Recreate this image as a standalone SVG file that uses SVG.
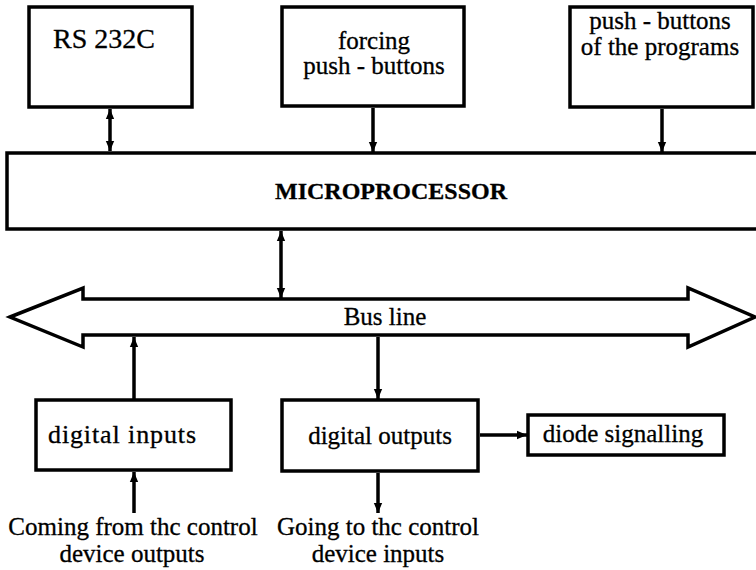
<svg xmlns="http://www.w3.org/2000/svg" width="756" height="570" viewBox="0 0 756 570">
<defs>
<style>
.box{fill:#fff;stroke:#000;stroke-width:3.5}
.t{font-family:"Liberation Serif","Times New Roman",serif;font-size:25px;fill:#000;stroke:#000;stroke-width:0.3;text-anchor:middle}
.b{font-weight:bold;font-size:24px}
.c{stroke:#000;stroke-width:3.5;fill:none}
</style>
<marker id="ah" markerUnits="userSpaceOnUse" markerWidth="10" markerHeight="11" refX="12" refY="5.5" orient="auto-start-reverse" viewBox="0 0 12 11">
<path d="M0,0.5 L12,5.5 L0,10.5 z" fill="#000"/>
</marker>
</defs>
<rect width="756" height="570" fill="#fff"/>
<g id="rs232">
<rect class="box" x="29" y="7" width="163" height="100"/>
<text class="t" x="104" y="48" style="font-size:28px">RS 232C</text>
</g>
<g id="forcing">
<rect class="box" x="282" y="7" width="182" height="99"/>
<text class="t" x="374" y="49">forcing</text>
<text class="t" x="374" y="74">push - buttons</text>
</g>
<g id="programs">
<rect class="box" x="570" y="7" width="183" height="100"/>
<text class="t" x="660" y="29">push - buttons</text>
<text class="t" x="660" y="55">of the programs</text>
</g>
<g id="microprocessor">
<rect class="box" x="7" y="153" width="760" height="76"/>
<text class="t b" x="391" y="199">MICROPROCESSOR</text>
</g>
<g id="bus">
<polygon class="box" points="10,317 83,288 83,299 688,299 688,288 755,317 688,347 688,335 83,335 83,347"/>
<text class="t" x="385" y="325">Bus line</text>
</g>
<g id="inputs">
<rect class="box" x="36" y="400" width="195" height="70"/>
<text class="t" x="122" y="443" style="font-size:26px" textLength="148" lengthAdjust="spacing">digital inputs</text>
</g>
<g id="outputs">
<rect class="box" x="282" y="400" width="196" height="71"/>
<text class="t" x="380" y="444">digital outputs</text>
</g>
<g id="diode">
<rect class="box" x="528" y="415" width="196" height="40"/>
<text class="t" x="623" y="442">diode signalling</text>
</g>
<g id="coming">
<text class="t" x="133" y="535">Coming from thc control</text>
<text class="t" x="132" y="562">device outputs</text>
</g>
<g id="going">
<text class="t" x="378" y="535">Going to thc control</text>
<text class="t" x="378" y="562">device inputs</text>
</g>
<g id="connectors">
<line class="c" x1="110" y1="109" x2="110" y2="151" marker-start="url(#ah)" marker-end="url(#ah)"/>
<line class="c" x1="373" y1="108" x2="373" y2="152" marker-end="url(#ah)"/>
<line class="c" x1="662" y1="109" x2="662" y2="152" marker-end="url(#ah)"/>
<line class="c" x1="281" y1="231" x2="281" y2="298" marker-start="url(#ah)" marker-end="url(#ah)"/>
<line class="c" x1="134" y1="399" x2="134" y2="337" marker-end="url(#ah)"/>
<line class="c" x1="134" y1="513" x2="134" y2="472" marker-end="url(#ah)"/>
<line class="c" x1="378" y1="337" x2="378" y2="399" marker-end="url(#ah)"/>
<line class="c" x1="378" y1="473" x2="378" y2="513" marker-end="url(#ah)"/>
<line class="c" x1="480" y1="435" x2="527" y2="435" marker-end="url(#ah)"/>
</g>
</svg>
